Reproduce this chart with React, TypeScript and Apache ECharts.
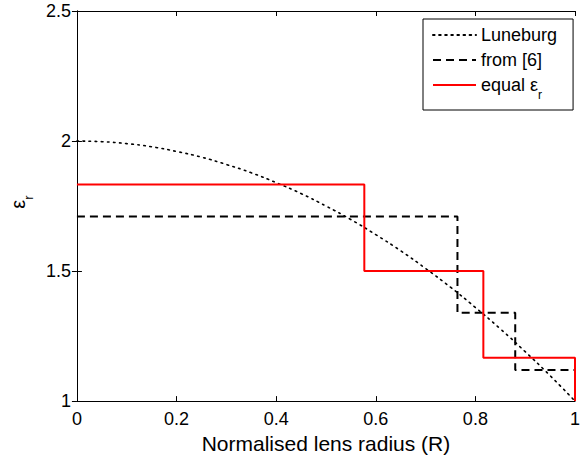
import React, { useEffect, useRef } from "react";
import * as echarts from "echarts";

const luneburgR = [0, 0.05, 0.1, 0.15, 0.2, 0.25, 0.3, 0.35, 0.4, 0.45, 0.5, 0.55, 0.6, 0.65, 0.7, 0.75, 0.8, 0.85, 0.9, 0.95, 1.0];
const luneburgEps = [2.0, 1.9975, 1.99, 1.978, 1.96, 1.938, 1.91, 1.878, 1.84, 1.798, 1.75, 1.698, 1.64, 1.578, 1.51, 1.438, 1.36, 1.278, 1.19, 1.098, 1.0];

const ref6R = [0, 0.764, 0.764, 0.88, 0.88, 1.0, 1.0];
const ref6Eps = [1.71, 1.71, 1.34, 1.34, 1.12, 1.12, 1.0];

const equalR = [0, 0.577, 0.577, 0.816, 0.816, 1.0, 1.0];
const equalEps = [1.833, 1.833, 1.5, 1.5, 1.167, 1.167, 1.0];

const xTicks = { min: 0, max: 1, interval: 0.2 };
const yTicks = { min: 1, max: 2.5, interval: 0.5 };

const seriesNames = ["Luneburg", "from [6]", "equal εr"];

const FONT = "'Liberation Sans', Arial, Helvetica, sans-serif";

export default function App() {
  const ref = useRef<HTMLDivElement>(null);
  useEffect(() => {
    if (!ref.current) return;
    const chart = echarts.init(ref.current, undefined, { renderer: "svg" });
    const zip = (a: number[], b: number[]) => a.map((v, i) => [v, b[i]]);
    const axisCommon = {
      axisLine: { show: true, lineStyle: { color: "#000", width: 1 } },
      axisTick: { show: true, inside: true, length: 5, lineStyle: { color: "#000" } },
      splitLine: { show: false },
    };
    chart.setOption({
      animation: false,
      backgroundColor: "#fff",
      textStyle: { fontFamily: FONT },
      grid: { left: 75, right: 12, top: 11, bottom: 55, containLabel: false },
      legend: {
        data: seriesNames,
        orient: "vertical",
        left: 423,
        top: 19,
        padding: [7, 16, 9, 9],
        itemWidth: 43,
        itemHeight: 14,
        itemGap: 7,
        itemTextGap: 5,
        borderColor: "#000",
        borderWidth: 1,
        backgroundColor: "#fff",
        itemStyle: { color: "rgba(0,0,0,0)", borderWidth: 0, borderColor: "rgba(0,0,0,0)" },
        formatter: (name: string) => (name === "equal εr" ? "{a|equal ε}{s|r}" : "{a|" + name + "}"),
        textStyle: {
          color: "#000",
          fontFamily: FONT,
          fontSize: 18,
          rich: {
            a: { fontSize: 18, fontFamily: FONT, color: "#000", lineHeight: 20 },
            s: { fontSize: 12, fontFamily: FONT, color: "#000", verticalAlign: "bottom", lineHeight: 20, padding: [0, 0, -6, 0] },
          },
        },
      },
      xAxis: [
        {
          type: "value",
          ...xTicks,
          position: "bottom",
          ...axisCommon,
          axisLabel: { color: "#000", fontSize: 18, fontFamily: FONT, margin: 9 },
          name: "Normalised lens radius (R)",
          nameLocation: "middle",
          nameGap: 30,
          nameTextStyle: { color: "#000", fontSize: 21, fontFamily: FONT },
        },
        {
          type: "value",
          ...xTicks,
          position: "top",
          ...axisCommon,
          axisLabel: { show: false },
        },
      ],
      yAxis: [
        {
          type: "value",
          ...yTicks,
          position: "left",
          ...axisCommon,
          axisLabel: { color: "#000", fontSize: 18, fontFamily: FONT, margin: 6 },
          name: "{e|ε}{s|r}",
          nameLocation: "middle",
          nameGap: 42,
          nameRotate: 90,
          nameTextStyle: {
            color: "#000",
            fontFamily: FONT,
            padding: [0, 0, 0, 8],
            rich: {
              e: { fontSize: 20, fontFamily: FONT, color: "#000", lineHeight: 22 },
              s: { fontSize: 13, fontFamily: FONT, color: "#000", verticalAlign: "bottom", lineHeight: 22, padding: [0, 0, -6, 0] },
            },
          },
        },
        {
          type: "value",
          ...yTicks,
          position: "right",
          ...axisCommon,
          axisLabel: { show: false },
        },
      ],
      series: [
        {
          name: seriesNames[0],
          type: "line",
          data: zip(luneburgR, luneburgEps),
          smooth: true,
          symbol: "none",
          lineStyle: { color: "#000", width: 1.6, type: [1.6, 4.5], cap: "round" },
          itemStyle: { color: "#000" },
          z: 3,
        },
        {
          name: seriesNames[1],
          type: "line",
          data: zip(ref6R, ref6Eps),
          symbol: "none",
          lineStyle: { color: "#000", width: 2, type: [8, 5] },
          itemStyle: { color: "#000" },
          z: 4,
        },
        {
          name: seriesNames[2],
          type: "line",
          data: zip(equalR, equalEps),
          symbol: "none",
          lineStyle: { color: "#ff0000", width: 2 },
          itemStyle: { color: "#ff0000" },
          z: 5,
        },
      ],
    });
    return () => chart.dispose();
  }, []);
  return (
    <div
      ref={ref}
      style={{ position: "absolute", left: 0, top: 0, width: 587, height: 459, background: "#fff" }}
    />
  );
}
